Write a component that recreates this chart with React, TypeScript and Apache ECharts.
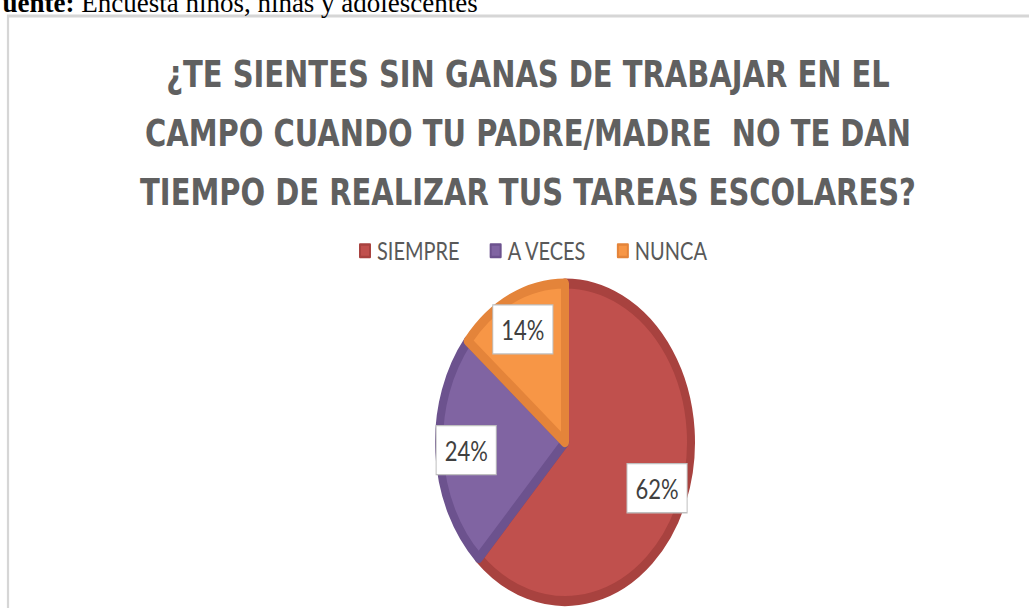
import React, { useEffect, useRef } from "react";
import * as echarts from "echarts";

const categories = ["SIEMPRE", "A VECES", "NUNCA"];
const values = [62, 24, 14];
const sliceColors = ["#C0504D", "#8064A2", "#F79646"];
const borderColors = ["#A8423F", "#6C528E", "#E4843A"];
const titleText =
  "¿TE SIENTES SIN GANAS DE TRABAJAR EN EL\nCAMPO CUANDO TU PADRE/MADRE  NO TE DAN\nTIEMPO DE REALIZAR TUS TAREAS ESCOLARES?";
const sourceLabel = "Fuente:";
const sourceText = " Encuesta niños, niñas y adolescentes";

const W = 1029;
const H = 608;
const S = 1.26;
const FONT = "Lato, 'Liberation Sans', sans-serif";
const TITLE_FONT = "'DejaVu Sans', sans-serif";

export default function App() {
  const ref = useRef<HTMLDivElement>(null);
  useEffect(() => {
    if (!ref.current) return;
    const chart = echarts.init(ref.current, undefined, { renderer: "svg" });
    const total = values.reduce((a, b) => a + b, 0);
    const data = categories.map((name, i) => ({
      name,
      value: values[i],
      itemStyle: { color: sliceColors[i], borderColor: borderColors[i] },
    }));
    chart.setOption({
      animation: false,
      backgroundColor: "#ffffff",
      title: {
        text: titleText,
        left: 523,
        textAlign: "center",
        top: 31,
        textStyle: {
          fontFamily: TITLE_FONT,
          fontSize: 29,
          fontWeight: "bold",
          color: "#606060",
          lineHeight: 46.5,
        },
      },
      legend: {
        data: categories,
        left: 354,
        top: 184,
        itemWidth: 10,
        itemHeight: 10,
        itemGap: 30,
        icon: "rect",
        textStyle: { fontFamily: FONT, fontSize: 20, color: "#595959", padding: [0, 0, 0, 2] },
      },
      graphic: [
        {
          type: "rect",
          shape: { x: 8, y: 12.7, width: 1200, height: 800 },
          style: { fill: "none", stroke: "#d6d6d6", lineWidth: 2.2 },
          silent: true,
        },
        {
          type: "text",
          x: -14,
          y: 2.2,
          scaleY: 1 / S,
          style: {
            text: "{b|" + sourceLabel + "}" + sourceText,
            fontFamily: "'Liberation Serif', 'Times New Roman', serif",
            fontSize: 27,
            fill: "#000",
            verticalAlign: "middle",
            rich: { b: { fontWeight: "bold", fontFamily: "'Liberation Serif', serif", fontSize: 27 } },
          },
          silent: true,
        },
      ],
      series: [
        {
          type: "pie",
          center: [565, 351],
          radius: [0, 126],
          startAngle: 90,
          clockwise: true,
          silent: true,
          label: { show: false },
          labelLine: { show: false },
          itemStyle: { borderWidth: 8, borderJoin: "round" },
          data,
        },
        {
          type: "pie",
          center: [565, 351],
          radius: [64, 128],
          startAngle: 90,
          clockwise: true,
          silent: true,
          itemStyle: { color: "transparent", borderWidth: 0 },
          label: {
            show: true,
            position: "inside",
            formatter: (p: any) => Math.round((p.value / total) * 100) + "%",
            fontFamily: FONT,
            fontSize: 22,
            color: "#404040",
            backgroundColor: "#ffffff",
            borderColor: "#bfbfbf",
            borderWidth: 1,
            padding: [8, 8],
          },
          labelLine: { show: false },
          data: categories.map((name, i) => ({ name, value: values[i] })),
        },
      ],
    });
    return () => chart.dispose();
  }, []);
  return (
    <div
      style={{
        position: "absolute",
        left: 0,
        top: 0,
        width: W,
        height: H,
        overflow: "hidden",
        background: "#fff",
      }}
    >
      <div
        ref={ref}
        style={{
          width: W,
          height: H / S,
          transform: `scaleY(${S})`,
          transformOrigin: "0 0",
        }}
      />
    </div>
  );
}
